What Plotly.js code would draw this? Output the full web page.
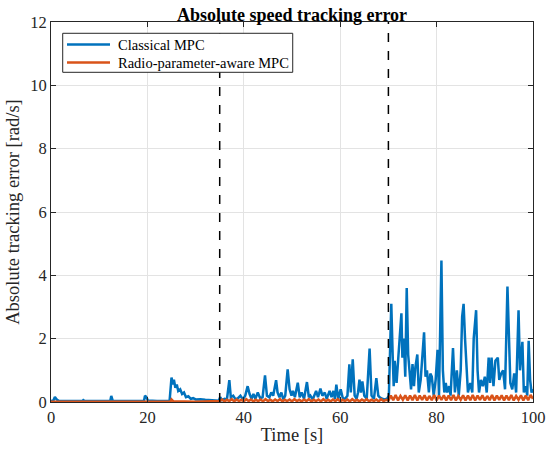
<!DOCTYPE html>
<html>
<head>
<meta charset="utf-8">
<script src="https://cdn.plot.ly/plotly-3.0.1.min.js"></script>
<style>html,body{margin:0;padding:0;background:#fff;}#plot{width:550px;height:454px;}</style>
</head>
<body>
<div id="plot"></div>
<script>
// Classical MPC: time [s] and absolute tracking error [rad/s]
const classicalTime = [
0,0.5,0.8,1.2,1.6,3,5,6.5,6.7,7,10,12.3,12.5,12.8,15,19.3,19.5,19.8,20.1,22,24.6,25.0,25.3,25.5,25.8,26.1,26.4,26.8,27.2,27.6,28,28.5,29,29.5,30,31,32,33,34,34.8,
35.1,35.5,36,36.5,37,37.3,37.8,38.3,38.8,39.3,39.8,40.3,40.8,41.2,41.6,42,42.4,42.9,43.4,43.9,44.4,44.8,45.3,45.7,46.1,46.4,46.7,47,47.4,47.8,48.2,48.6,49.1,49.5,49.9,50.2,50.6,51.2,51.6,52,52.5,53.1,53.5,53.8,54.3,55,55.4,55.9,56.3,56.8,57.2,57.8,58.2,58.6,58.9,59.2,59.6,60.1,60.6,61.1,61.5,61.9,62.2,62.6,63,63.4,63.7,64.0,64.3,64.6,65,65.5,66.1,66.5,67,67.5,67.9,68.2,68.7,69.2,69.7,
70.1,70.4,70.6,70.9,71.1,71.3,71.7,72.1,72.4,72.7,72.9,73.2,73.5,73.8,74.1,74.4,74.7,75,75.3,75.6,76.0,76.3,76.7,77.4,77.7,78,78.4,78.7,79,79.4,79.8,80.2,80.5,81.0,81.3,81.6,81.9,82.2,82.6,82.9,83.4,83.8,84.2,84.6,85.0,85.3,85.6,85.9,86.2,86.5,87,87.4,87.7,88.2,88.5,88.8,89.2,89.6,90,90.4,90.8,91.1,91.4,91.8,92.2,92.7,93,93.4,93.8,94.2,94.7,95,95.3,95.7,96.1,96.5,97.0,97.3,97.8,98.1,98.5,98.8,99.1,99.4,99.7,100
];
const classicalError = [
0.03,0.05,0.16,0.08,0.04,0.03,0.03,0.03,0.06,0.03,0.03,0.03,0.19,0.04,0.03,0.04,0.2,0.15,0.05,0.03,0.03,0.77,0.55,0.7,0.45,0.55,0.35,0.4,0.25,0.3,0.15,0.18,0.1,0.12,0.08,0.09,0.07,0.06,0.05,0.04,
0.15,0.06,0.1,0.08,0.69,0.15,0.2,0.08,0.12,0.2,0.08,0.2,0.5,0.25,0.1,0.25,0.1,0.3,0.12,0.15,0.84,0.2,0.15,0.3,0.2,0.5,0.69,0.3,0.15,0.3,0.08,0.2,1.03,0.4,0.2,0.35,0.15,0.61,0.15,0.3,0.1,0.63,0.15,0.2,0.08,0.35,0.15,0.42,0.2,0.3,0.1,0.35,0.15,0.35,0.1,0.55,0.1,0.4,0.08,0.12,0.2,1.19,0.3,1.35,0.2,0.1,0.3,0.71,0.3,0.65,0.2,0.1,1.69,0.2,0.1,0.75,0.2,0.15,0.1,0.08,0.1,
0.2,1.8,3.1,1.4,0.5,1.3,0.6,1.5,2.37,2.8,1.4,2.0,0.8,3.6,1.5,1.0,0.4,1.2,0.5,1.1,1.5,0.3,0.7,2.2,0.8,1.0,0.3,0.9,0.8,0.2,0.7,1.65,0.2,4.47,1.0,0.3,0.6,0.3,0.5,0.2,1.7,0.3,1.0,0.2,1.0,2.7,3.1,2.0,1.0,0.3,0.6,0.3,2.0,2.9,1.0,0.3,0.7,0.5,0.8,0.3,1.4,0.6,1.4,0.5,1.3,1.4,0.7,0.9,1.0,0.4,3.65,2.0,0.6,0.4,0.9,0.3,2.9,1.0,1.9,0.3,0.5,0.2,1.93,0.7,0.3,0.4
];

// Radio-parameter-aware MPC
const awareTime = [
0,10,20,24.8,25,25.4,30,34.8,
35,35.5,36,36.5,37,37.5,38,38.5,39,39.5,40,40.5,41,41.5,42,42.5,43,43.5,44,44.5,45,45.5,46,46.5,47,47.5,48,48.5,49,49.5,50,50.5,51,51.5,52,52.5,53,53.5,54,54.5,55,55.5,56,56.5,57,57.5,58,58.5,59,59.5,60,60.5,61,61.5,62,62.5,63,63.5,64,64.5,65,65.5,66,66.5,67,67.5,68,68.5,69,69.5,
70,70.5,71,71.5,72,72.5,73,73.5,74,74.5,75,75.5,76,76.5,77,77.5,78,78.5,79,79.5,80,80.5,81,81.5,82,82.5,83,83.5,84,84.5,85,85.5,86,86.5,87,87.5,88,88.5,89,89.5,90,90.5,91,91.5,92,92.5,93,93.5,94,94.5,95,95.5,96,96.5,97,97.5,98,98.5,99,99.5,100
];
const awareError = [
0.01,0.01,0.01,0.01,0.08,0.02,0.01,0.01,
0.03,0.08,0.02,0.07,0.03,0.09,0.02,0.08,0.03,0.07,0.02,0.09,0.03,0.08,0.02,0.07,0.03,0.08,0.02,0.09,0.03,0.07,0.02,0.08,0.03,0.09,0.02,0.07,0.03,0.08,0.02,0.09,0.03,0.07,0.02,0.08,0.03,0.09,0.02,0.07,0.03,0.08,0.02,0.09,0.03,0.07,0.02,0.08,0.03,0.09,0.02,0.07,0.03,0.08,0.02,0.09,0.03,0.07,0.02,0.08,0.03,0.09,0.02,0.07,0.03,0.08,0.02,0.09,0.03,0.07,
0.05,0.2,0.06,0.22,0.05,0.19,0.07,0.21,0.05,0.2,0.06,0.22,0.05,0.2,0.07,0.21,0.05,0.19,0.06,0.22,0.05,0.2,0.07,0.21,0.05,0.2,0.06,0.22,0.05,0.19,0.07,0.21,0.05,0.2,0.06,0.22,0.05,0.2,0.07,0.21,0.05,0.19,0.06,0.22,0.05,0.2,0.07,0.21,0.05,0.2,0.06,0.22,0.05,0.19,0.07,0.21,0.05,0.2,0.06,0.22,0.1
];

const seriesNames = ['Classical MPC', 'Radio-parameter-aware MPC'];
const seriesColors = ['#0072BD', '#D95319'];
const phaseBoundaries = [35, 70];
const xTicks = [0, 20, 40, 60, 80, 100];
const yTicks = [0, 2, 4, 6, 8, 10, 12];

const serif = '"Liberation Serif", "Times New Roman", serif';
const axisColor = '#262626';

const traces = [
  {x: classicalTime, y: classicalError, type: 'scatter', mode: 'lines', name: seriesNames[0],
   line: {color: seriesColors[0], width: 2.5}},
  {x: awareTime, y: awareError, type: 'scatter', mode: 'lines', name: seriesNames[1],
   line: {color: seriesColors[1], width: 2.5}}
];

const shapes = phaseBoundaries.map(b => ({
  type: 'line', xref: 'x', yref: 'y', x0: b, x1: b, y0: 0, y1: 12,
  line: {color: '#000', width: 1.5, dash: 'dash'}
}));

// legend box drawn in paper coordinates (MATLAB-style compact legend)
const legBox = {x0: 0.0243, x1: 0.5015, y0: 0.8676, y1: 0.9703};
const legRowsY = [0.9405, 0.8932];
shapes.push({type: 'rect', xref: 'paper', yref: 'paper', x0: legBox.x0, x1: legBox.x1, y0: legBox.y0, y1: legBox.y1,
  fillcolor: '#fff', line: {color: axisColor, width: 1}});
const annotations = [];
seriesNames.forEach((n, i) => {
  shapes.push({type: 'line', xref: 'paper', yref: 'paper', x0: 0.0332, x1: 0.1224, y0: legRowsY[i], y1: legRowsY[i],
    line: {color: seriesColors[i], width: 2.5}});
  annotations.push({xref: 'paper', yref: 'paper', x: 0.1349, y: legRowsY[i], xanchor: 'left', yanchor: 'middle',
    text: n, showarrow: false, font: {family: serif, size: 14.5, color: '#000'}});
});

const axisCommon = {
  showline: true, mirror: 'ticks', linecolor: axisColor, linewidth: 1,
  ticks: 'inside', ticklen: 5, tickcolor: axisColor, tickwidth: 1,
  showgrid: true, gridcolor: '#e3e3e3', gridwidth: 1, zeroline: false,
  tickfont: {family: serif, size: 16.5, color: axisColor}
};

const layout = {
  width: 550, height: 454,
  margin: {l: 51, r: 17, t: 22, b: 52},
  font: {family: serif, color: axisColor},
  paper_bgcolor: '#fff', plot_bgcolor: '#fff',
  title: {text: '<b>Absolute speed tracking error</b>', font: {family: serif, size: 18, color: '#000'},
          x: 0.5, xref: 'paper', xanchor: 'center', y: 1, yref: 'paper', yanchor: 'bottom', pad: {b: 1}},
  xaxis: Object.assign({}, axisCommon, {range: [0, 100], tickvals: xTicks,
    title: {text: 'Time [s]', font: {family: serif, size: 18.5, color: axisColor}, standoff: 2}}),
  yaxis: Object.assign({}, axisCommon, {range: [0, 12], tickvals: yTicks,
    title: {text: 'Absolute tracking error [rad/s]', font: {family: serif, size: 18.5, color: axisColor}, standoff: 5}}),
  shapes: shapes,
  annotations: annotations,
  showlegend: false
};

Plotly.newPlot('plot', traces, layout, {displayModeBar: false, staticPlot: true});
</script>
</body>
</html>
